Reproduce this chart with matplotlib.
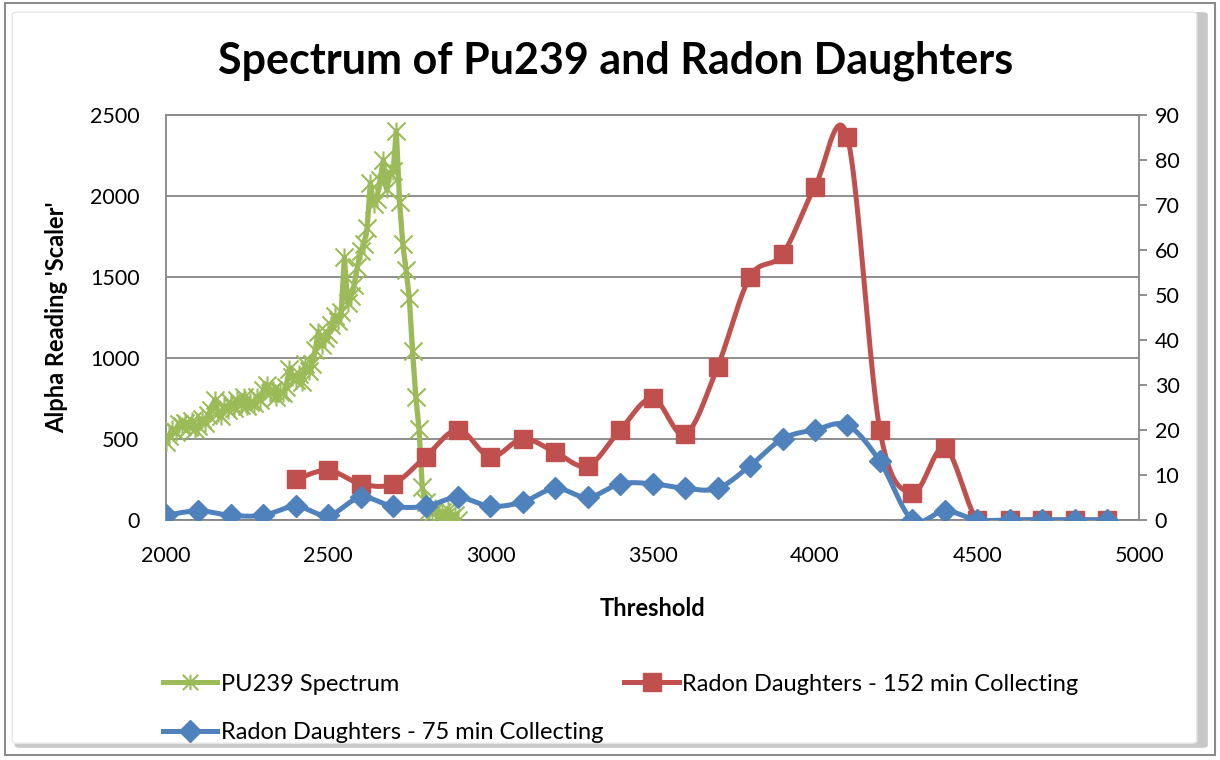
import numpy as np
import matplotlib
matplotlib.use("Agg")
import matplotlib.pyplot as plt
from matplotlib.path import Path
from matplotlib.patches import FancyBboxPatch, Rectangle

plt.rcParams['font.family'] = ['Lato', 'DejaVu Sans']

# PU239 spectrum (left axis), threshold steps of 10
pu_x = list(range(2000, 2910, 10))
pu_y = [480, 520, 560, 540, 590, 580, 600, 570, 610, 560,
        580, 620, 600, 650, 680, 740, 660, 640, 700, 680,
        720, 690, 740, 710, 760, 700, 730, 720, 760, 740,
        800, 830, 780, 800, 760, 790, 780, 820, 930, 880,
        860, 900, 850, 960, 920, 960, 1050, 1160, 1080, 1120,
        1150, 1200, 1260, 1230, 1280, 1620, 1340, 1380, 1450, 1560,
        1660, 1700, 1800, 2080, 1950, 1980, 2100, 2220, 2040, 2140,
        2150, 2400, 1960, 1700, 1540, 1370, 1040, 760, 560, 200,
        110, 60, 40, 70, 30, 50, 20, 60, 10, 30, 0]

# Radon daughters (right axis)
rn152_x = list(range(2400, 5000, 100))
rn152_y = [9, 11, 8, 8, 14, 20, 14, 18, 15, 12, 20, 27, 19, 34, 54, 59,
           74, 85, 20, 6, 16, 0, 0, 0, 0, 0]
rn75_x = list(range(2000, 5000, 100))
rn75_y = [1, 2, 1, 1, 3, 1, 5, 3, 3, 5, 3, 4, 7, 5, 8, 8, 7, 7, 12, 18,
          20, 21, 13, 0, 2, 0, 0, 0, 0, 0]

green = '#9BBB59'
red = '#C0504D'
blue = '#4F81BD'
grid_c = '#868686'


def smooth(x, y, n=24):
    # Excel-style smoothed line (Catmull-Rom as cubic Bezier)
    p = np.column_stack([x, y]).astype(float)
    out = [p[0]]
    t = np.linspace(0, 1, n)[1:, None]
    for i in range(len(p) - 1):
        p0 = p[i - 1] if i > 0 else p[i]
        p1, p2 = p[i], p[i + 1]
        p3 = p[i + 2] if i + 2 < len(p) else p[i + 1]
        c1 = p1 + (p2 - p0) / 6
        c2 = p2 - (p3 - p1) / 6
        seg = ((1 - t) ** 3) * p1 + 3 * ((1 - t) ** 2) * t * c1 \
            + 3 * (1 - t) * t ** 2 * c2 + t ** 3 * p2
        out.extend(seg)
    out = np.array(out)
    return out[:, 0], out[:, 1]


# excel "star" marker: an X with a vertical bar
star = Path([(-1, -1), (1, 1), (-1, 1), (1, -1), (0, -1), (0, 1)],
            [Path.MOVETO, Path.LINETO, Path.MOVETO, Path.LINETO,
             Path.MOVETO, Path.LINETO])

fig = plt.figure(figsize=(12.2, 7.6), dpi=100)

# chart frame with soft shadow (behind the axes)
fig.patches.append(Rectangle((0.004, 0.006), 0.992, 0.99, transform=fig.transFigure,
                             fc='none', ec='#8C8C8C', lw=1.5, zorder=-10))
fig.patches.append(FancyBboxPatch((0.012, 0.016), 0.978, 0.968,
                                  boxstyle='round,pad=0,rounding_size=0.004',
                                  transform=fig.transFigure,
                                  fc='#C8C8C8', ec='none', zorder=-9))
fig.patches.append(FancyBboxPatch((0.010, 0.022), 0.971, 0.962,
                                  boxstyle='round,pad=0,rounding_size=0.004',
                                  transform=fig.transFigure,
                                  fc='white', ec='#E6E6E6', lw=1, zorder=-8))

ax = fig.add_axes([0.136, 0.316, 0.798, 0.533])
ax.set_facecolor('none')
ax.plot(pu_x, pu_y, color=green, lw=3.8, marker=star, ms=13,
        mec=green, mew=1.5, mfc='none', zorder=3, label='PU239 Spectrum')
ax.set_xlim(2000, 5000)
ax.set_ylim(0, 2500)
ax.set_xticks(range(2000, 5001, 500))
ax.set_yticks(range(0, 2501, 500))
ax.yaxis.grid(True, color=grid_c, lw=1.3)
ax.set_axisbelow(True)
for s in ['left', 'bottom', 'right', 'top']:
    ax.spines[s].set_color(grid_c)
    ax.spines[s].set_linewidth(1.3)
ax.tick_params(axis='both', length=0, labelsize=15.5, colors='black')
ax.tick_params(axis='y', pad=19)
ax.tick_params(axis='x', pad=19)
ax.set_xlabel('Threshold', fontsize=17, fontweight='bold', labelpad=22)
ax.set_ylabel("Alpha Reading 'Scaler'", fontsize=17, fontweight='bold', labelpad=16)

ax2 = ax.twinx()
sx, sy = smooth(rn152_x, rn152_y)
ax2.plot(sx, sy, color=red, lw=3.6, zorder=3)
ax2.plot(rn152_x, rn152_y, ls='none', marker='s', ms=13.5, color=red, zorder=4)
sx, sy = smooth(rn75_x, rn75_y)
ax2.plot(sx, sy, color=blue, lw=3.6, zorder=5)
ax2.plot(rn75_x, rn75_y, ls='none', marker='D', ms=11, color=blue, zorder=6)
ax2.set_ylim(0, 90)
ax2.set_yticks(range(0, 91, 10))
for s in ['left', 'bottom', 'right', 'top']:
    ax2.spines[s].set_visible(False)
ax2.tick_params(axis='y', length=6, width=1.3, color=grid_c, labelsize=15.5, pad=5)

# legend handles
h_pu, = ax.plot([], [], color=green, lw=3.6, marker=star, ms=11, mec=green,
                mew=1.5, mfc='none')
h_152, = ax.plot([], [], color=red, lw=3.6, marker='s', ms=13.5)
h_75, = ax.plot([], [], color=blue, lw=3.6, marker='D', ms=11)
fig.legend([h_pu, h_75, h_152],
           ['PU239 Spectrum', 'Radon Daughters - 75 min Collecting',
            'Radon Daughters - 152 min Collecting'],
           ncol=2, loc='center left', bbox_to_anchor=(0.116, 0.068),
           frameon=False, fontsize=17, handlelength=2.3, handletextpad=0.15,
           columnspacing=0.9, labelspacing=1.15)

fig.text(0.505, 0.92, 'Spectrum of Pu239 and Radon Daughters', ha='center',
         va='center', fontsize=31, fontweight='bold')

fig.savefig('out.png', dpi=100)
